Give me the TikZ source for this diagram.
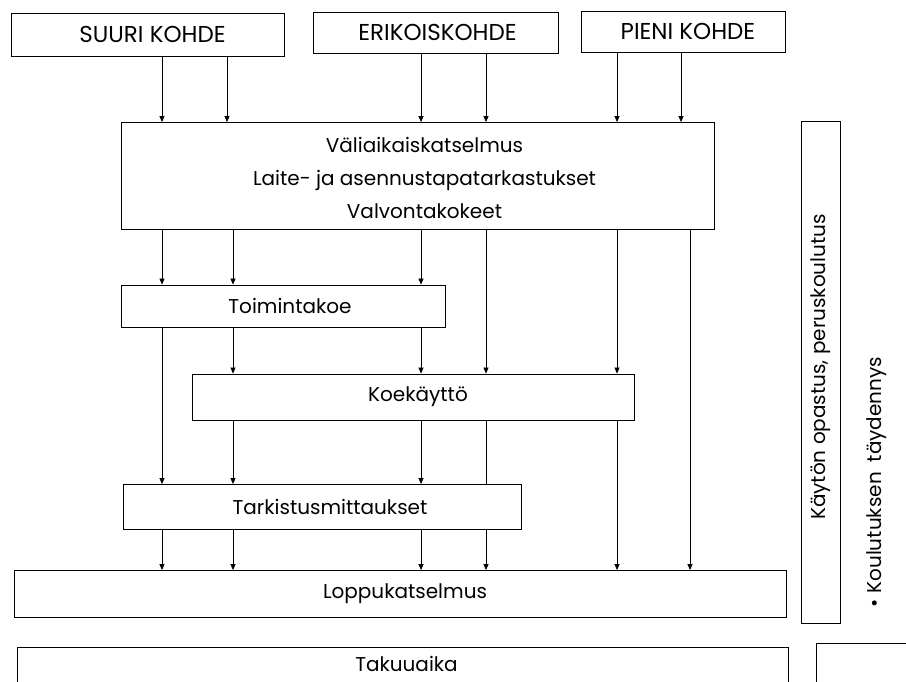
\documentclass[tikz,border=0pt]{standalone}
\usepackage{fontspec}
\setmainfont{Poppins}
\usetikzlibrary{arrows.meta}
\begin{document}
\begin{tikzpicture}[x=1pt,y=-1pt,
  box/.style={draw, line width=0.85pt, inner sep=0pt},
  txt/.style={inner sep=0pt, align=center, font=\fontsize{20}{33}\selectfont},
  captxt/.style={inner sep=0pt, font=\fontsize{23}{26}\selectfont},
  arr/.style={-{Triangle[length=6pt,width=5pt]}, line width=0.75pt},
  ln/.style={line width=0.75pt}]
\useasboundingbox (0,0) rectangle (906,681);
% boxes
\node[box, minimum width=273pt, minimum height=43pt] (suuri) at (147.5,34.5) {};
\node[box, minimum width=245pt, minimum height=41pt] (erik) at (435.5,32.5) {};
\node[box, minimum width=204pt, minimum height=41pt] (pieni) at (683,31.5) {};
\node[box, minimum width=593pt, minimum height=107pt] (vali) at (417.5,176) {};
\node[box, minimum width=324pt, minimum height=42pt] (toim) at (283,306) {};
\node[box, minimum width=442pt, minimum height=46pt] (koe) at (413,397) {};
\node[box, minimum width=398pt, minimum height=45pt] (tark) at (322,507) {};
\node[box, minimum width=772pt, minimum height=47pt] (loppu) at (400,594) {};
\node[box, minimum width=771pt, minimum height=38pt] (taku) at (402.5,666) {};
\node[box, minimum width=39pt, minimum height=502pt] (vbox) at (820.5,372) {};
\node[box, minimum width=94pt, minimum height=42pt] (rbox) at (863,664) {};
% texts
\node[captxt] (tsuuri) at ([xshift=5pt]suuri.center) {SUURI KOHDE};
\node[captxt] (terik) at ([xshift=2pt]erik.center) {ERIKOISKOHDE};
\node[captxt] (tpieni) at ([xshift=5pt]pieni.center) {PIENI KOHDE};
\node[txt] (tvali) at ([xshift=7pt,yshift=-2pt]vali.center) {V\"aliaikaiskatselmus\\Laite- ja asennustapatarkastukset\\Valvontakokeet};
\node[txt] (ttoim) at ([xshift=7pt]toim.center) {Toimintakoe};
\node[txt] (tkoe) at ([xshift=5pt]koe.center) {Koek\"aytt\"o};
\node[txt] (ttark) at ([xshift=8pt]tark.center) {Tarkistusmittaukset};
\node[txt] (tloppu) at ([xshift=5pt]loppu.center) {Loppukatselmus};
\node[txt] (ttaku) at ([xshift=4pt,yshift=2pt]taku.center) {Takuuaika};
\node[txt, rotate=90] (vtext) at (821,367) {K\"ayt\"on opastus, peruskoulutus};
\node[txt, rotate=90] (ktext) at (877,482) {\textbullet\ Koulutuksen\hspace{10pt}t\"aydennys};
% columns
\coordinate (c1) at (162,0);
\coordinate (c2a) at (227,0);
\coordinate (c2) at (233,0);
\coordinate (c3) at (421,0);
\coordinate (c4) at (486,0);
\coordinate (c5) at (617,0);
\coordinate (c6a) at (681,0);
\coordinate (c6) at (690,0);
% top arrows
\draw[arr] (suuri.south -| c1) -- (vali.north -| c1);
\draw[arr] (suuri.south -| c2a) -- (vali.north -| c2a);
\draw[arr] (erik.south -| c3) -- (vali.north -| c3);
\draw[arr] (erik.south -| c4) -- (vali.north -| c4);
\draw[arr] (pieni.south -| c5) -- (vali.north -| c5);
\draw[arr] (pieni.south -| c6a) -- (vali.north -| c6a);
% from vali
\draw[arr] (vali.south -| c1) -- (toim.north -| c1);
\draw[arr] (vali.south -| c2) -- (toim.north -| c2);
\draw[arr] (vali.south -| c3) -- (toim.north -| c3);
\draw[arr] (vali.south -| c4) -- (koe.north -| c4);
\draw[arr] (vali.south -| c5) -- (koe.north -| c5);
\draw[arr] (vali.south -| c6) -- (loppu.north -| c6);
% from toim
\draw[arr] (toim.south -| c1) -- (tark.north -| c1);
\draw[arr] (toim.south -| c2) -- (koe.north -| c2);
\draw[arr] (toim.south -| c3) -- (koe.north -| c3);
% from koe
\draw[arr] (koe.south -| c2) -- (tark.north -| c2);
\draw[arr] (koe.south -| c3) -- (tark.north -| c3);
\draw[ln] (koe.south -| c4) -- (tark.north -| c4);
\draw[arr] (koe.south -| c5) -- (loppu.north -| c5);
% from tark
\draw[arr] (tark.south -| c1) -- (loppu.north -| c1);
\draw[arr] (tark.south -| c2) -- (loppu.north -| c2);
\draw[arr] (tark.south -| c3) -- (loppu.north -| c3);
\draw[arr] (tark.south -| c4) -- (loppu.north -| c4);
\end{tikzpicture}
\end{document}
